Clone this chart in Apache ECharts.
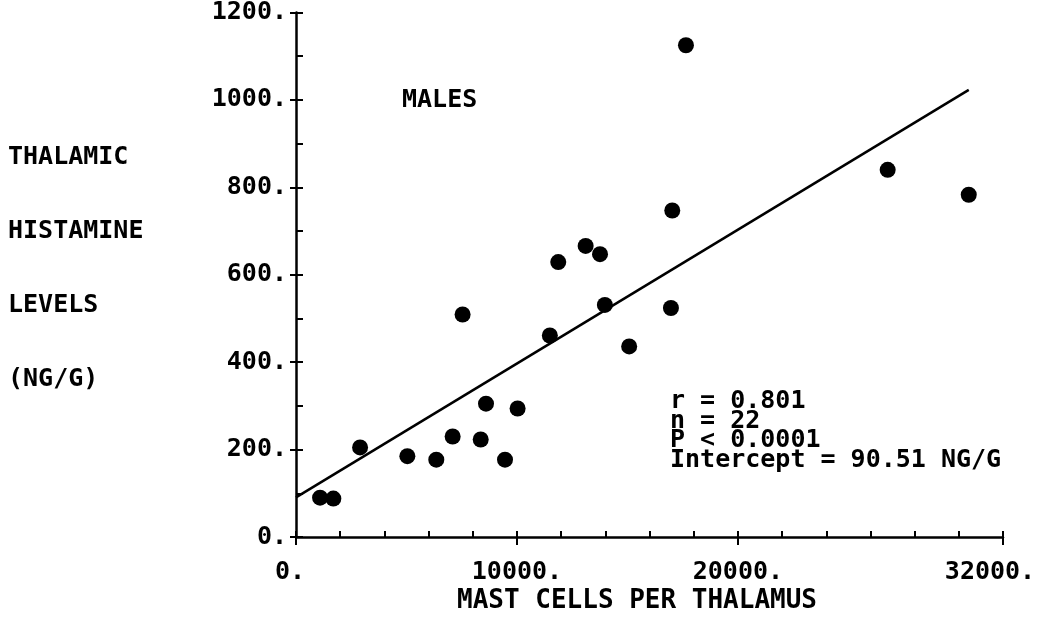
<!DOCTYPE html>
<html>
<head>
<meta charset="utf-8">
<script src="https://cdn.jsdelivr.net/npm/echarts@6/dist/echarts.min.js"></script>
<style>
html, body { margin: 0; padding: 0; background: #fff; }
#chartDiv { width: 1041px; height: 621px; }
</style>
</head>
<body>
<div id="chartDiv"></div>
<script>
var myChart = echarts.init(document.getElementById('chartDiv'));

// mast cells per thalamus vs thalamic histamine (ng/g), males
var mastCells = [1090, 1690, 2900, 5040, 6350, 7090, 7540, 8360, 8600, 9460, 10030,
                 11490, 11870, 13110, 13760, 13980, 15080, 16970, 17030, 17650, 26780, 30450];
var histamine = [90, 88, 205, 185, 177, 230, 509, 223, 305, 177, 294,
                 461, 629, 666, 647, 531, 436, 524, 747, 1125, 840, 783];

// regression line ends
var fitX = [0, 30450];
var fitY = [90.51, 1023];

var xLabelValues = [0, 10000, 20000, 32000];
var yLabelStep = 200;
var yTitleLines = ['THALAMIC', 'HISTAMINE', 'LEVELS', '(NG/G)'];
var statsLines = ['r = 0.801', 'n = 22', 'P < 0.0001', 'Intercept = 90.51 NG/G'];

var FONT = 'DejaVu Sans Mono';
var ink = '#000';

var points = mastCells.map(function (x, i) { return [x, histamine[i]]; });
var fitLine = fitX.map(function (x, i) { return [x, fitY[i]]; });

var graphics = yTitleLines.map(function (t, i) {
    return {
        type: 'text', left: 8, top: 145 + i * 74,
        style: { text: t, font: 'bold 25px ' + FONT, fill: ink }
    };
});
graphics.push({
    type: 'text', left: 402, top: 88,
    style: { text: 'MALES', font: 'bold 25px ' + FONT, fill: ink }
});
graphics.push({
    type: 'text', left: 670, top: 389,
    style: { text: statsLines.join('\n'), font: 'bold 25px ' + FONT, lineHeight: 19.5, fill: ink }
});
graphics.push({
    type: 'text', left: 457, top: 588,
    style: { text: 'MAST CELLS PER THALAMUS', font: 'bold 26px ' + FONT, fill: ink }
});

option = {
    backgroundColor: '#fff',
    animation: false,
    grid: { left: 296, right: 38, top: 12.5, bottom: 84, outerBoundsMode: 'none' },
    xAxis: [
        {
            type: 'value', min: 0, max: 32000, interval: 2000,
            axisLine: { lineStyle: { color: ink, width: 2.5 } },
            axisTick: { inside: true, length: 6, lineStyle: { color: ink, width: 2 } },
            axisLabel: {
                margin: 23, color: ink, fontFamily: FONT, fontSize: 25, fontWeight: 'bold',
                formatter: function (v) {
                    if (xLabelValues.indexOf(v) < 0) return '';
                    if (v === 0) return '{first|0.}';
                    if (v === 32000) return '{last|' + v + '.}';
                    return v + '.';
                },
                rich: {
                    first: { fontFamily: FONT, fontSize: 25, fontWeight: 'bold', color: ink, padding: [0, 12, 0, 0] },
                    last: { fontFamily: FONT, fontSize: 25, fontWeight: 'bold', color: ink, padding: [0, 26, 0, 0] }
                }
            },
            splitLine: { show: false }
        },
        {
            type: 'value', min: 0, max: 32000, position: 'bottom', offset: 0,
            axisLine: { show: false },
            axisTick: { show: true, customValues: xLabelValues, length: 8, lineStyle: { color: ink, width: 2 } },
            axisLabel: { show: false },
            splitLine: { show: false }
        }
    ],
    yAxis: [
        {
            type: 'value', min: 0, max: 1200, interval: 100,
            axisLine: { show: true, lineStyle: { color: ink, width: 2.5 } },
            axisTick: { show: true, inside: true, length: 7, lineStyle: { color: ink, width: 2 } },
            axisLabel: {
                margin: 9, color: ink, fontFamily: FONT, fontSize: 25, fontWeight: 'bold',
                formatter: function (v) { return v % yLabelStep === 0 ? v + '.' : ''; }
            },
            splitLine: { show: false }
        },
        {
            type: 'value', min: 0, max: 1200, interval: yLabelStep, position: 'left', offset: 0,
            axisLine: { show: false },
            axisTick: { show: true, length: 6, lineStyle: { color: ink, width: 2 } },
            axisLabel: { show: false },
            splitLine: { show: false }
        }
    ],
    series: [
        {
            name: 'fit',
            type: 'line',
            data: fitLine,
            showSymbol: false,
            lineStyle: { color: ink, width: 2.5 },
            z: 2
        },
        {
            name: 'males',
            type: 'scatter',
            data: points,
            symbolSize: 16,
            itemStyle: { color: ink, opacity: 1 },
            z: 3
        }
    ],
    graphic: graphics
};
myChart.setOption(option);
window.onresize = myChart.resize;
</script>
</body>
</html>
